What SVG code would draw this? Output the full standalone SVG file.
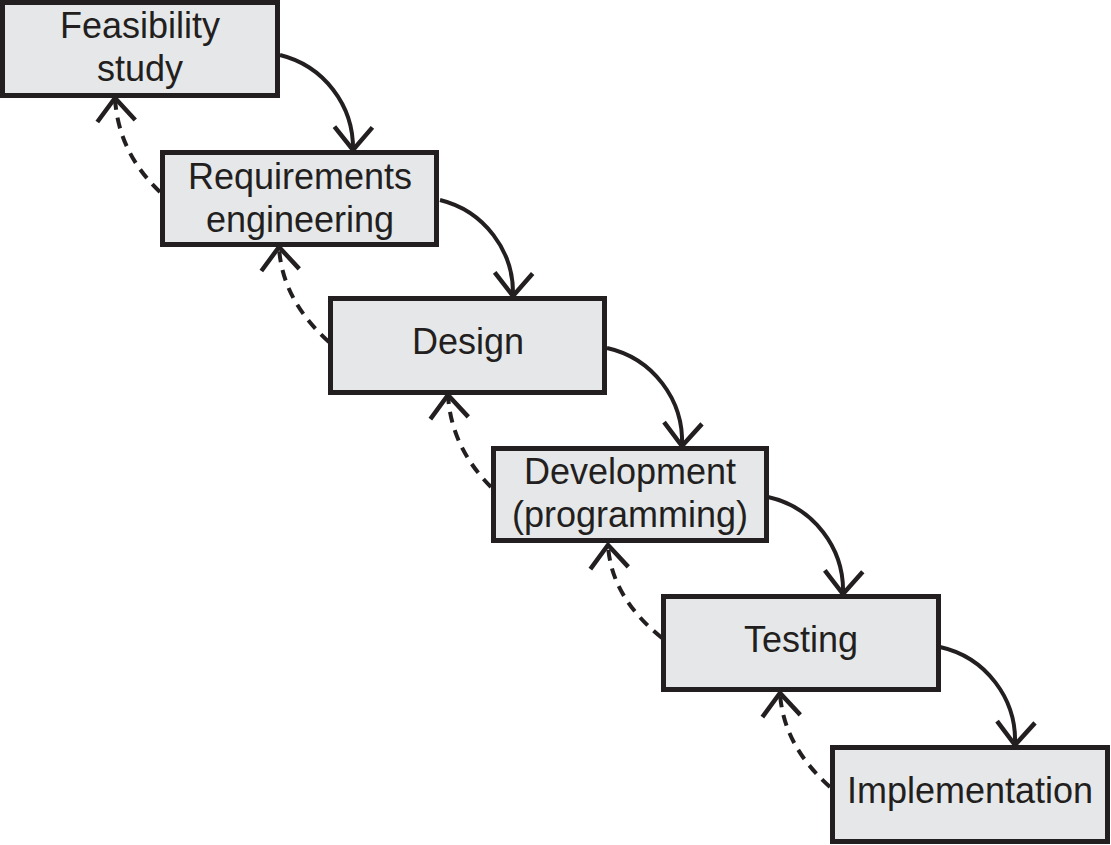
<svg xmlns="http://www.w3.org/2000/svg" width="1111" height="845" viewBox="0 0 1111 845">
<defs>
<style>
.box{fill:#e6e7e8;stroke:#231f20;stroke-width:5}
.t{font-family:"Liberation Sans",Arial,sans-serif;font-size:36px;fill:#231f20;text-anchor:middle}
.c{fill:none;stroke:#231f20;stroke-width:4}
.d{stroke-dasharray:11 8}
</style>
<marker id="ah" markerUnits="userSpaceOnUse" markerWidth="60" markerHeight="60" viewBox="-30 -30 60 60" refX="0" refY="0" orient="auto">
<path d="M-23,-19 L0,0 L-23,19" fill="none" stroke="#231f20" stroke-width="4.5"/>
</marker>
</defs>
<rect width="1111" height="845" fill="#ffffff"/>
<g id="connectors">
<path class="c" d="M280,55 A96 96 0 0 1 353,150" marker-end="url(#ah)"/>
<path class="c" d="M440,200 A96 96 0 0 1 513,296" marker-end="url(#ah)"/>
<path class="c" d="M607,348 A96 96 0 0 1 682,446" marker-end="url(#ah)"/>
<path class="c" d="M768,497 A96 96 0 0 1 843,594" marker-end="url(#ah)"/>
<path class="c" d="M940,647 A96 96 0 0 1 1015,745" marker-end="url(#ah)"/>
<path class="c d" d="M160,192 Q118,152 115,98" marker-end="url(#ah)"/>
<path class="c d" d="M329,342 Q282,300 279,247" marker-end="url(#ah)"/>
<path class="c d" d="M491,487 Q451,447 448,395" marker-end="url(#ah)"/>
<path class="c d" d="M662,638 Q611,597 608,545" marker-end="url(#ah)"/>
<path class="c d" d="M830,787 Q783,745 780,693" marker-end="url(#ah)"/>
</g>
<g id="feasibility">
<rect class="box" x="2.5" y="2.5" width="275" height="93"/>
<text class="t" x="140" y="38">Feasibility</text>
<text class="t" x="140" y="81">study</text>
</g>
<g id="requirements">
<rect class="box" x="162.5" y="152.5" width="274" height="92"/>
<text class="t" x="300" y="189">Requirements</text>
<text class="t" x="300" y="232">engineering</text>
</g>
<g id="design">
<rect class="box" x="330.5" y="298.5" width="274" height="94"/>
<text class="t" x="468" y="354">Design</text>
</g>
<g id="development">
<rect class="box" x="493.5" y="448.5" width="273" height="92"/>
<text class="t" x="630" y="484">Development</text>
<text class="t" x="630" y="527">(programming)</text>
</g>
<g id="testing">
<rect class="box" x="663.5" y="596.5" width="275" height="93"/>
<text class="t" x="801" y="652">Testing</text>
</g>
<g id="implementation">
<rect class="box" x="832.5" y="747.5" width="275" height="94"/>
<text class="t" x="970" y="803">Implementation</text>
</g>
</svg>
